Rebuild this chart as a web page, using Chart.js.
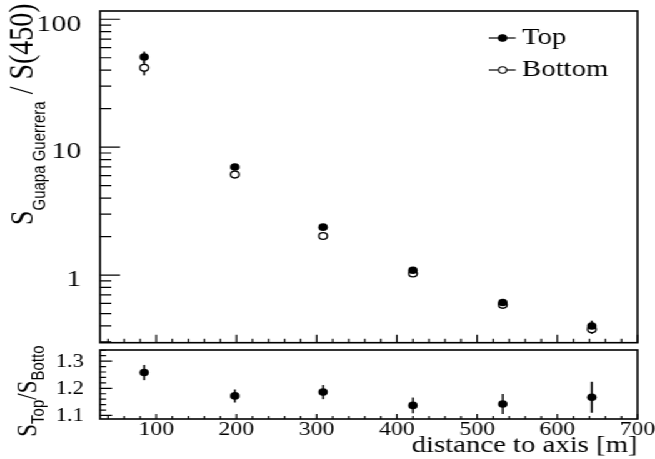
<!DOCTYPE html>
<html>
<head>
<meta charset="utf-8">
<script src="https://cdn.jsdelivr.net/npm/chart.js@4.4.1/dist/chart.umd.min.js"></script>
<style>
  html, body { margin: 0; padding: 0; background: #fff; overflow: hidden; }
  /* the figure is drawn narrow and stretched sideways */
  #stage { position: relative; width: 524px; height: 459px; transform: scaleX(1.25); transform-origin: 0 0; }
  #mainPad { position: absolute; left: 0; top: 0; }
  #ratioPad { position: absolute; left: 0; top: 345px; }
</style>
</head>
<body>
<div id="stage">
  <canvas id="mainPad" width="524" height="348"></canvas>
  <canvas id="ratioPad" width="524" height="114"></canvas>
</div>
<script>
// distance of each station ring to the shower axis [m]
const distances = [85, 198, 308, 420, 532, 643];

// signal normalised to S(450), top and bottom detectors
const signalTop = [50.7, 7.0, 2.37, 1.09, 0.61, 0.40];
const signalTopErr = [5.2, 0.25, 0.08, 0.03, 0.02, 0.04];
const signalBottom = [41.7, 6.1, 2.02, 1.03, 0.585, 0.377];
const signalBottomErr = [5.3, 0.2, 0.07, 0.03, 0.02, 0.03];

// top / bottom ratio
const ratio = [1.258, 1.172, 1.186, 1.137, 1.142, 1.167];
const ratioErr = [0.028, 0.024, 0.026, 0.029, 0.037, 0.057];

// tick labels
const logTickLabels = [1, 10, 100];
const distanceTicks = [100, 200, 300, 400, 500, 600, 700];
const ratioTicks = [1.1, 1.2, 1.3];

const SERIF = "'Liberation Serif', 'DejaVu Serif', serif";
const SANS = "'Liberation Sans', Arial, sans-serif";

function points(ys) {
  return distances.map((x, i) => ({ x: x, y: ys[i] }));
}

// minor ticks every 20 m between the labelled hundreds
const distanceMinor = [];
for (let v = 40; v < 700; v += 20) if (v % 100 !== 0) distanceMinor.push(v);

const logMinor = [];
[0.1, 1, 10].forEach(d => { for (let k = 2; k <= 9; k++) logMinor.push(k * d); });

const ratioMinor = [];
for (let k = 55; k <= 67; k++) if (k % 5 !== 0) ratioMinor.push(k / 50);

function drawRotated(ctx, segs, x, y) {
  ctx.save();
  ctx.translate(x, y);
  ctx.rotate(-Math.PI / 2);
  ctx.fillStyle = '#000';
  ctx.textBaseline = 'alphabetic';
  ctx.textAlign = 'left';
  let pos = 0;
  for (const s of segs) {
    ctx.font = s.font;
    ctx.fillText(s.text, pos, s.dy || 0);
    pos += ctx.measureText(s.text).width;
  }
  ctx.restore();
}

// vertical error bars under the markers
const errorBars = {
  id: 'errorBars',
  beforeDatasetsDraw(chart) {
    const ctx = chart.ctx;
    const ys = chart.scales.y;
    ctx.save();
    ctx.strokeStyle = '#000';
    ctx.lineWidth = 1.5;
    chart.data.datasets.forEach((ds, di) => {
      const meta = chart.getDatasetMeta(di);
      meta.data.forEach((pt, i) => {
        const v = ds.data[i].y, e = ds.errors[i];
        ctx.beginPath();
        ctx.moveTo(pt.x, ys.getPixelForValue(v - e));
        ctx.lineTo(pt.x, ys.getPixelForValue(v + e));
        ctx.stroke();
      });
    });
    ctx.restore();
  }
};

// frame with inward ticks, ROOT style
const frame = {
  id: 'frame',
  afterDraw(chart, args, o) {
    const ctx = chart.ctx;
    const a = chart.chartArea;
    const xs = chart.scales.x, ys = chart.scales.y;
    ctx.save();
    ctx.strokeStyle = '#000';
    ctx.lineWidth = 1.2;
    ctx.beginPath();
    const tick = (v, len) => {
      const px = xs.getPixelForValue(v);
      ctx.moveTo(px, a.bottom);
      ctx.lineTo(px, a.bottom - len);
    };
    o.xMajor.forEach(v => tick(v, o.xMajorLen));
    o.xMinor.forEach(v => tick(v, o.xMinorLen));
    const ytick = (v, len) => {
      const py = ys.getPixelForValue(v);
      ctx.moveTo(a.left, py);
      ctx.lineTo(a.left + len, py);
    };
    o.yMajor.forEach(v => ytick(v, o.yMajorLen));
    o.yMinor.forEach(v => ytick(v, o.yMinorLen));
    ctx.stroke();
    ctx.lineWidth = 1.6;
    ctx.strokeRect(a.left, a.top, a.right - a.left, a.bottom - a.top);
    ctx.restore();
  }
};

const mainDecor = {
  id: 'mainDecor',
  afterDraw(chart) {
    const ctx = chart.ctx;
    drawRotated(ctx, [
      { text: 'S', font: '26px ' + SERIF },
      { text: 'Guapa Guerrera', font: '15px ' + SANS, dy: 10 },
      { text: ' / S(450)', font: '28px ' + SERIF }
    ], 26, 225);

    // legend
    const rows = [
      { label: 'Top', fill: '#000', y: 38 },
      { label: 'Bottom', fill: '#fff', y: 70 }
    ];
    ctx.save();
    rows.forEach(r => {
      ctx.strokeStyle = '#000';
      ctx.lineWidth = 1.2;
      ctx.beginPath();
      ctx.moveTo(391, r.y);
      ctx.lineTo(412.5, r.y);
      ctx.stroke();
      ctx.beginPath();
      ctx.arc(402, r.y, 3.2, 0, Math.PI * 2);
      ctx.fillStyle = r.fill;
      ctx.fill();
      ctx.lineWidth = 1.1;
      ctx.stroke();
      ctx.fillStyle = '#000';
      ctx.font = '23px ' + SERIF;
      ctx.textBaseline = 'middle';
      ctx.textAlign = 'left';
      ctx.fillText(r.label, 417.6, r.y);
    });
    ctx.restore();
  }
};

const ratioDecor = {
  id: 'ratioDecor',
  afterDraw(chart) {
    const ctx = chart.ctx;
    drawRotated(ctx, [
      { text: 'S', font: '23px ' + SERIF },
      { text: 'Top', font: '15px ' + SANS, dy: 6 },
      { text: '/', font: '23px ' + SERIF },
      { text: 'S', font: '23px ' + SERIF },
      { text: 'Bottom', font: '15px ' + SANS, dy: 6 }
    ], 29.3, 91.7);

    ctx.save();
    ctx.fillStyle = '#000';
    ctx.font = '23px ' + SERIF;
    ctx.textAlign = 'right';
    ctx.textBaseline = 'alphabetic';
    ctx.fillText('distance to axis [m]', chart.chartArea.right, 107);
    ctx.restore();
  }
};

function fixWidth(w) {
  return function (scale) {
    scale.width = w;
    scale.paddingTop = 0;
    scale.paddingBottom = 0;
  };
}

const markerTop = { pointStyle: 'circle', pointRadius: 3.8, backgroundColor: '#000', borderColor: '#000', pointBorderWidth: 0 };
const markerBottom = { pointStyle: 'circle', pointRadius: 3.4, backgroundColor: '#fff', borderColor: '#000', pointBorderWidth: 1.3 };

new Chart(document.getElementById('mainPad'), {
  type: 'scatter',
  data: {
    datasets: [
      Object.assign({ label: 'Top', data: points(signalTop), errors: signalTopErr }, markerTop),
      Object.assign({ label: 'Bottom', data: points(signalBottom), errors: signalBottomErr }, markerBottom)
    ]
  },
  options: {
    responsive: false,
    devicePixelRatio: 1,
    animation: false,
    layout: { padding: { left: 0, right: 14, top: 11, bottom: 2 } },
    plugins: {
      legend: { display: false },
      tooltip: { enabled: false },
      frame: {
        xMajor: distanceTicks, xMinor: distanceMinor, xMajorLen: 8, xMinorLen: 4,
        yMajor: logTickLabels, yMinor: logMinor, yMajorLen: 16, yMinorLen: 9
      }
    },
    scales: {
      x: { type: 'linear', min: 30, max: 700, display: false },
      y: {
        type: 'logarithmic', min: 0.296, max: 116,
        grid: { display: false }, border: { display: false },
        afterFit: fixWidth(80),
        ticks: {
          autoSkip: false, padding: 7, labelOffset: 5, color: '#000',
          font: { family: SERIF, size: 24 },
          callback: v => logTickLabels.includes(v) ? String(v) : ''
        }
      }
    }
  },
  plugins: [errorBars, frame, mainDecor]
});

new Chart(document.getElementById('ratioPad'), {
  type: 'scatter',
  data: {
    datasets: [
      Object.assign({ label: 'Top/Bottom', data: points(ratio), errors: ratioErr }, markerTop)
    ]
  },
  options: {
    responsive: false,
    devicePixelRatio: 1,
    animation: false,
    layout: { padding: { left: 0, right: 14, top: 5, bottom: 0 } },
    plugins: {
      legend: { display: false },
      tooltip: { enabled: false },
      frame: {
        xMajor: distanceTicks, xMinor: distanceMinor, xMajorLen: 5, xMinorLen: 3,
        yMajor: ratioTicks, yMinor: ratioMinor, yMajorLen: 9.6, yMinorLen: 4.8
      }
    },
    scales: {
      x: {
        type: 'linear', min: 30, max: 700,
        grid: { display: false }, border: { display: false },
        afterFit: function (scale) { scale.height = 40; scale.paddingLeft = 0; scale.paddingRight = 0; },
        ticks: {
          stepSize: 100, includeBounds: false, autoSkip: false, maxRotation: 0,
          padding: -8, color: '#000', font: { family: SERIF, size: 19 },
          callback: v => distanceTicks.includes(v) ? String(v) : ''
        }
      },
      y: {
        type: 'linear', min: 1.087, max: 1.341,
        grid: { display: false }, border: { display: false },
        afterFit: fixWidth(80),
        ticks: {
          stepSize: 0.1, includeBounds: false, autoSkip: false, padding: 5, labelOffset: 1,
          color: '#000', font: { family: SERIF, size: 18 },
          callback: v => ratioTicks.some(t => Math.abs(t - v) < 1e-6) ? v.toFixed(1) : ''
        }
      }
    }
  },
  plugins: [errorBars, frame, ratioDecor]
});
</script>
</body>
</html>
